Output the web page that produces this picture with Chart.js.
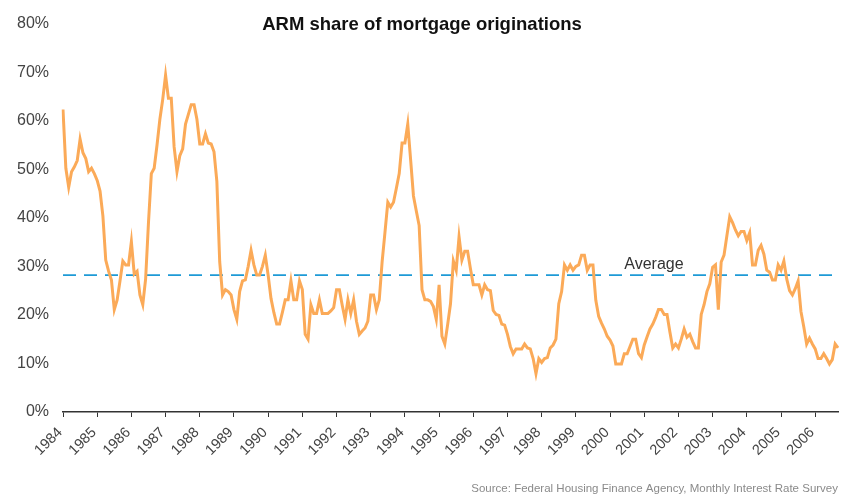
<!DOCTYPE html>
<html>
<head>
<meta charset="utf-8">
<script src="https://cdn.jsdelivr.net/npm/chart.js@4.4.0/dist/chart.umd.min.js"></script>
<style>
  html, body { margin: 0; padding: 0; background: #ffffff; }
  #wrap { width: 846px; height: 498px; position: relative; }
</style>
</head>
<body>
<div id="wrap"><canvas id="c" width="846" height="498"></canvas></div>
<script>
// ---- Data (monthly, Jan 1984 .. Sep 2006), ARM share of originations in % ----
const START_YEAR = 1984;
const armShare = [
  // 1984
  62.3, 50.2, 46.3, 49.5, 50.5, 51.8, 56.2, 53.4, 52.2, 49.5, 50.2, 49.1,
  // 1985
  47.7, 45.5, 40.4, 31.3, 29.0, 27.2, 21.1, 23.1, 27.0, 31.1, 30.3, 30.3,
  // 1986
  35.1, 28.4, 29.0, 24.1, 22.1, 27.4, 39.0, 49.1, 50.2, 55.0, 60.3, 64.4,
  // 1987
  69.4, 64.6, 64.6, 54.6, 49.5, 52.8, 54.2, 59.3, 61.3, 63.3, 63.3, 60.3,
  // 1988
  55.2, 55.2, 57.3, 55.4, 55.2, 53.6, 47.5, 30.9, 24.1, 25.2, 24.8, 24.1,
  // 1989
  21.1, 19.1, 24.8, 27.0, 27.2, 30.0, 33.3, 30.3, 28.2, 28.2, 30.0, 32.3,
  // 1990
  28.2, 23.4, 20.5, 18.1, 18.1, 20.5, 23.1, 23.1, 27.0, 23.1, 23.1, 27.0,
  // 1991
  25.2, 16.0, 15.0, 22.1, 20.3, 20.3, 23.1, 20.3, 20.3, 20.3, 20.8, 21.5,
  // 1992
  25.2, 25.2, 22.0, 19.1, 23.1, 20.3, 23.1, 18.7, 16.0, 16.7, 17.3, 18.7,
  // 1993
  24.1, 24.1, 21.1, 23.1, 30.9, 37.0, 43.2, 42.2, 43.2, 46.1, 49.1, 55.4,
  // 1994
  55.4, 59.3, 52.0, 44.5, 41.4, 38.4, 25.2, 23.1, 23.1, 22.8, 21.7, 19.1,
  // 1995
  26.2, 15.6, 14.0, 18.0, 22.3, 31.1, 29.2, 36.1, 31.3, 33.1, 33.1, 29.5,
  // 1996
  26.2, 26.2, 26.2, 24.1, 26.2, 25.2, 25.0, 20.9, 20.1, 19.9, 18.1, 17.9,
  // 1997
  16.0, 13.5, 12.0, 13.0, 13.0, 13.0, 14.0, 13.2, 13.0, 11.0, 7.9, 11.0,
  // 1998
  10.2, 11.0, 11.2, 13.2, 13.8, 15.0, 22.3, 24.8, 30.3, 29.2, 30.3, 29.2,
  // 1999
  30.0, 30.3, 32.3, 32.3, 29.2, 30.3, 30.3, 23.0, 19.7, 18.3, 17.1, 15.6,
  // 2000
  14.8, 13.6, 9.9, 9.9, 9.9, 12.0, 12.0, 13.5, 15.0, 15.0, 12.0, 11.2,
  // 2001
  13.8, 15.5, 17.1, 18.1, 19.5, 21.1, 21.1, 20.1, 20.1, 16.5, 13.2, 14.0,
  // 2002
  13.2, 15.0, 17.1, 15.4, 16.0, 14.5, 13.2, 13.2, 20.1, 22.1, 24.8, 26.4,
  // 2003
  29.8, 30.3, 21.1, 30.9, 32.3, 36.3, 40.2, 39.0, 37.5, 36.3, 37.2, 37.2,
  // 2004
  35.3, 36.9, 30.3, 30.3, 33.3, 34.3, 32.5, 29.2, 28.8, 27.2, 27.2, 30.3,
  // 2005
  29.2, 31.1, 27.4, 25.0, 24.1, 25.4, 27.0, 20.7, 17.5, 14.0, 15.2, 14.0,
  // 2006
  13.0, 11.0, 11.0, 12.0, 11.0, 9.9, 10.8, 14.0, 13.2
];
const AVERAGE = 28.2;
const yTicks = [0, 10, 20, 30, 40, 50, 60, 70, 80];
const yearTicks = ['1984','1985','1986','1987','1988','1989','1990','1991','1992','1993','1994','1995',
                   '1996','1997','1998','1999','2000','2001','2002','2003','2004','2005','2006'];
const TITLE = 'ARM share of mortgage originations';
const SOURCE = 'Source: Federal Housing Finance Agency, Monthly Interest Rate Survey';
const AVG_LABEL = 'Average';
const AVG_LABEL_MONTH = '2000-06';

// ---- derived ----
const monthLabels = armShare.map((_, i) =>
  (START_YEAR + Math.floor(i / 12)) + '-' + String(i % 12 + 1).padStart(2, '0'));
const averageLine = monthLabels.map(() => AVERAGE);

const FONT = '"Liberation Sans", Arial, sans-serif';

const textPlugin = {
  id: 'texts',
  afterDraw(chart) {
    const { ctx, scales } = chart;
    const xs = scales.x, ys = scales.y;
    ctx.save();
    // title
    ctx.font = 'bold 18.5px ' + FONT;
    ctx.fillStyle = '#111111';
    ctx.textAlign = 'center';
    ctx.textBaseline = 'middle';
    ctx.fillText(TITLE, chart.width / 2 - 1, ys.getPixelForValue(80) + 1);
    // average label
    ctx.font = '16px ' + FONT;
    ctx.fillStyle = '#333333';
    ctx.textAlign = 'left';
    ctx.textBaseline = 'alphabetic';
    ctx.fillText(AVG_LABEL, xs.getPixelForValue(monthLabels.indexOf(AVG_LABEL_MONTH)), ys.getPixelForValue(AVERAGE) - 6);
    // source
    ctx.font = '11.5px ' + FONT;
    ctx.fillStyle = '#8a8a8a';
    ctx.textAlign = 'right';
    ctx.fillText(SOURCE, xs.right, chart.height - 6);
    ctx.restore();
  }
};

new Chart(document.getElementById('c'), {
  type: 'line',
  data: {
    labels: monthLabels,
    datasets: [
      {
        label: 'ARM share',
        data: armShare,
        borderColor: '#fbaa58',
        borderWidth: 3,
        pointRadius: 0,
        tension: 0,
        fill: false,
        order: 0
      },
      {
        label: 'Average',
        data: averageLine,
        borderColor: '#1e9ad6',
        borderWidth: 1.6,
        borderDash: [13, 8],
        pointRadius: 0,
        tension: 0,
        fill: false,
        order: 1
      }
    ]
  },
  options: {
    responsive: false,
    animation: false,
    layout: { padding: { top: 18, right: 8, left: 0, bottom: 0 } },
    plugins: { legend: { display: false }, tooltip: { enabled: false }, title: { display: false } },
    scales: {
      x: {
        type: 'category',
        offset: false,
        grid: { display: true, drawOnChartArea: false, drawTicks: true, tickLength: 5, color: '#333333', lineWidth: 1 },
        border: { display: true, color: '#333333', width: 1.5 },
        ticks: {
          autoSkip: false,
          minRotation: 45,
          maxRotation: 45,
          padding: 7,
          labelOffset: -3,
          color: '#444444',
          font: { family: FONT, size: 14.5 },
          callback: (v) => yearTicks[v / 12]
        },
        afterBuildTicks: (s) => { s.ticks = s.ticks.filter(t => t.value % 12 === 0); },
        afterFit: (s) => { s.height = 86; }
      },
      y: {
        min: 0,
        max: 80,
        grid: { display: false, drawTicks: false },
        border: { display: false },
        ticks: {
          padding: 14,
          color: '#444444',
          font: { family: FONT, size: 16 },
          callback: (v) => v + '%'
        },
        afterBuildTicks: (s) => { s.ticks = yTicks.map(v => ({ value: v })); },
        afterFit: (s) => { s.width = 63; }
      }
    }
  },
  plugins: [textPlugin]
});
</script>
</body>
</html>
